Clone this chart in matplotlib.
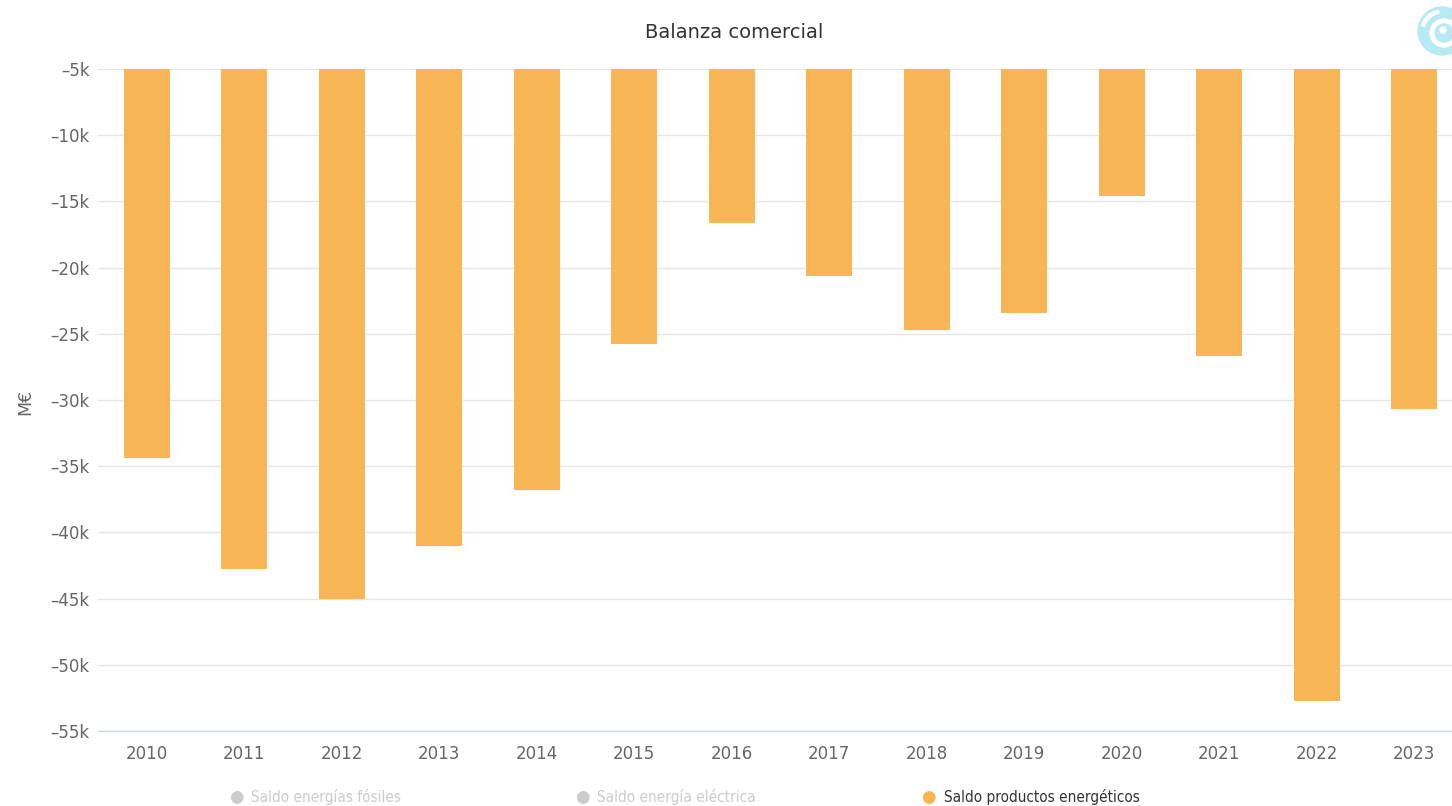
import matplotlib
matplotlib.use("Agg")
import matplotlib.pyplot as plt
from matplotlib.patches import Circle, Wedge
import numpy as np

years = ["2010", "2011", "2012", "2013", "2014", "2015", "2016", "2017", "2018",
         "2019", "2020", "2021", "2022", "2023"]
saldo_productos = [-34.4, -42.8, -45.0, -41.0, -36.8, -25.8, -16.6, -20.6, -24.7,
                   -23.4, -14.6, -26.7, -52.7, -30.7]
ytick_vals = [-5, -10, -15, -20, -25, -30, -35, -40, -45, -50, -55]
ytick_labels = ["–5k", "–10k", "–15k", "–20k", "–25k", "–30k", "–35k", "–40k",
                "–45k", "–50k", "–55k"]
legend_labels = ["Saldo energías fósiles", "Saldo energía eléctrica",
                 "Saldo productos energéticos"]

W, H = 1452, 806
fig = plt.figure(figsize=(W / 100, H / 100), dpi=100)
fig.patch.set_facecolor("white")

left, right, top, bottom = 98, 1463, 69, 731
ax = fig.add_axes([left / W, 1 - bottom / H, (right - left) / W, (bottom - top) / H])
ax.set_facecolor("white")

x = np.arange(len(years))
bar_color = "#f7b556"
# bars hang from the top of the axis (threshold 0 above the visible range)
ax.bar(x, [v - (-5) for v in saldo_productos], bottom=-5, width=0.47,
       color=bar_color, zorder=3)

ax.set_xlim(-0.5, len(years) - 0.5)
ax.set_ylim(-55, -5)
ax.set_yticks(ytick_vals)
ax.set_yticklabels(ytick_labels)
ax.set_xticks(x)
ax.set_xticklabels(years)
ax.grid(axis="y", color="#e6e6e6", linewidth=1, zorder=0)
ax.tick_params(axis="y", length=0, pad=6, labelsize=12, labelcolor="#666666")
ax.tick_params(axis="x", length=0, pad=10, labelsize=12, labelcolor="#666666")
for s in ["top", "right", "left"]:
    ax.spines[s].set_visible(False)
ax.spines["bottom"].set_color("#ccd6eb")
ax.spines["bottom"].set_linewidth(1)

fig.text(25 / W, 1 - 402 / H, "M€", rotation=90, ha="center", va="center",
         fontsize=12.5, color="#666666")
fig.text(734 / W, 1 - 33 / H, "Balanza comercial", ha="center", va="center",
         fontsize=14, color="#333333")

# legend
leg_items = [(236, 251, "#cccccc", "#cccccc"),
             (582, 597, "#cccccc", "#cccccc"),
             (928, 944, bar_color, "#333333")]
for (cx, tx, mc, tc), lab in zip(leg_items, legend_labels):
    fig.text(cx / W, 1 - 797 / H, "●", ha="center", va="center", fontsize=12,
             color=mc)
    fig.text(tx / W, 1 - 797 / H, lab, ha="left", va="center", fontsize=11,
             color=tc, family="DejaVu Sans", fontstretch="condensed")

# logo (top-right, partially clipped)
lax = fig.add_axes([1412 / W, 1 - 62 / H, 60 / W, 60 / H])
lax.set_xlim(0, 60)
lax.set_ylim(0, 60)
lax.axis("off")
cx0, cy0 = 30, 31
lax.add_patch(Circle((cx0, cy0), 24, color="#b8eaf4"))
lax.add_patch(Circle((cx0 + 2, cy0 - 2), 14, color="white"))
lax.add_patch(Circle((cx0 + 2, cy0 - 2), 9, color="#b8eaf4"))
lax.add_patch(Circle((cx0 + 1, cy0 + 1), 3, color="white"))
lax.add_patch(Wedge((cx0, cy0), 21, 100, 165, width=3, color="white"))

fig.savefig("out.png", dpi=100, facecolor="white")
